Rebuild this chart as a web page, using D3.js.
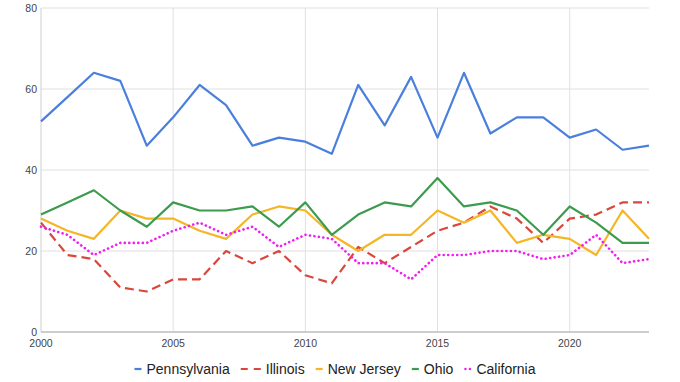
<!DOCTYPE html>
<html lang="en">
<head>
<meta charset="UTF-8">
<title>States</title>
<script src="https://cdn.jsdelivr.net/npm/d3@7"></script>
<style>
  body { margin: 0; background: #fff; }
  text { font-family: "Liberation Sans", Arial, sans-serif; }
</style>
</head>
<body>
<svg width="680" height="382"></svg>
<script>
    const years = d3.range(2000, 2024)
    const seriesNames = ["Pennsylvania", "Illinois", "New Jersey", "Ohio", "California"]
    const pennsylvania = [52, 58, 64, 62, 46, 53, 61, 56, 46, 48, 47, 44, 61, 51, 63, 48, 64, 49, 53, 53, 48, 50, 45, 46]
    const illinois = [27, 19, 18, 11, 10, 13, 13, 20, 17, 20, 14, 12, 21, 17, 21, 25, 27, 31, 28, 22, 28, 29, 32, 32]
    const newJersey = [28, 25, 23, 30, 28, 28, 25, 23, 29, 31, 30, 24, 20, 24, 24, 30, 27, 30, 22, 24, 23, 19, 30, 23]
    const ohio = [29, 32, 35, 30, 26, 32, 30, 30, 31, 26, 32, 24, 29, 32, 31, 38, 31, 32, 30, 24, 31, 27, 22, 22]
    const california = [26, 24, 19, 22, 22, 25, 27, 24, 26, 21, 24, 23, 17, 17, 13, 19, 19, 20, 20, 18, 19, 24, 17, 18]
    const yTicks = [0, 20, 40, 60, 80]
    const xTicks = [2000, 2005, 2010, 2015, 2020]

    const allValues = [pennsylvania, illinois, newJersey, ohio, california]
    const colors = ["#4a7fdc", "#d9473c", "#f4b625", "#3c9b4e", "#f01ff0"]
    const dashes = [null, "9,5", null, null, "2,4"]

    const margin = {left: 41, right: 31, top: 8, bottom: 50}
    const width = 680, height = 382
    const svg = d3.select("svg")

    const x = d3.scaleLinear().domain([2000, 2023]).range([margin.left, width - margin.right])
    const y = d3.scaleLinear().domain([0, 80]).range([height - margin.bottom, margin.top])

    // gridlines
    svg.append("g").selectAll("line").data(yTicks.slice(1)).join("line")
        .attr("x1", x(2000)).attr("x2", x(2023))
        .attr("y1", d => y(d)).attr("y2", d => y(d))
        .attr("stroke", "#e0e0e0").attr("stroke-width", 1)
    svg.append("g").selectAll("line").data(xTicks.slice(1)).join("line")
        .attr("x1", d => x(d)).attr("x2", d => x(d))
        .attr("y1", y(80)).attr("y2", y(0))
        .attr("stroke", "#e0e0e0").attr("stroke-width", 1)
    svg.append("line")
        .attr("x1", x(2000)).attr("x2", x(2000))
        .attr("y1", y(80)).attr("y2", y(0))
        .attr("stroke", "#cfcfcf")

    // axes labels
    svg.append("g").selectAll("text").data(yTicks).join("text")
        .attr("x", x(2000) - 4).attr("y", d => y(d) + 4)
        .attr("text-anchor", "end").attr("font-size", "10.5px").attr("fill", "#444")
        .text(d => d)
    svg.append("g").selectAll("text").data(xTicks).join("text")
        .attr("x", d => x(d)).attr("y", y(0) + 15)
        .attr("text-anchor", "middle").attr("font-size", "10.5px").attr("fill", "#444")
        .text(d => d)

    // series
    const line = d3.line().x((d, i) => x(years[i])).y(d => y(d))
    allValues.forEach((vals, k) => {
        svg.append("path")
            .datum(vals)
            .attr("d", line)
            .attr("fill", "none")
            .attr("stroke", colors[k])
            .attr("stroke-width", k === 4 ? 2.6 : 2.2)
            .attr("stroke-linejoin", "round")
            .attr("stroke-linecap", k === 4 ? "round" : "butt")
            .attr("stroke-dasharray", dashes[k] ? (k === 4 ? "0.1,4.4" : dashes[k]) : null)
    })

    // baseline
    svg.append("line")
        .attr("x1", x(2000)).attr("x2", x(2023))
        .attr("y1", y(0)).attr("y2", y(0))
        .attr("stroke", "#bdbdbd").attr("stroke-width", 1.5)

    // legend
    const legend = svg.append("g")
    const sampleW = [7, 20, 7, 7, 7]
    let cx = 0
    const items = []
    seriesNames.forEach((name, k) => {
        const g = legend.append("g")
        if (k === 1) {
            g.append("line").attr("x1", 0).attr("x2", 20).attr("y1", 0).attr("y2", 0)
                .attr("stroke", colors[k]).attr("stroke-width", 2.2).attr("stroke-dasharray", "7,6")
        } else if (k === 4) {
            g.append("line").attr("x1", 1).attr("x2", 6).attr("y1", 0).attr("y2", 0)
                .attr("stroke", colors[k]).attr("stroke-width", 2.4)
                .attr("stroke-linecap", "round").attr("stroke-dasharray", "0.1,4.4")
        } else {
            g.append("line").attr("x1", 0).attr("x2", 7).attr("y1", 0).attr("y2", 0)
                .attr("stroke", colors[k]).attr("stroke-width", 2.2)
        }
        const t = g.append("text").attr("x", sampleW[k] + 5).attr("y", 5)
            .attr("font-size", "14px").attr("fill", "#222").text(name)
        const w = sampleW[k] + 5 + t.node().getComputedTextLength()
        items.push({g, x: cx})
        cx += w + 11
    })
    const total = cx - 11
    const startX = (margin.left + width - margin.right) / 2 - total / 2 - 10
    items.forEach(it => it.g.attr("transform", `translate(${startX + it.x},369)`))
</script>
</body>
</html>
